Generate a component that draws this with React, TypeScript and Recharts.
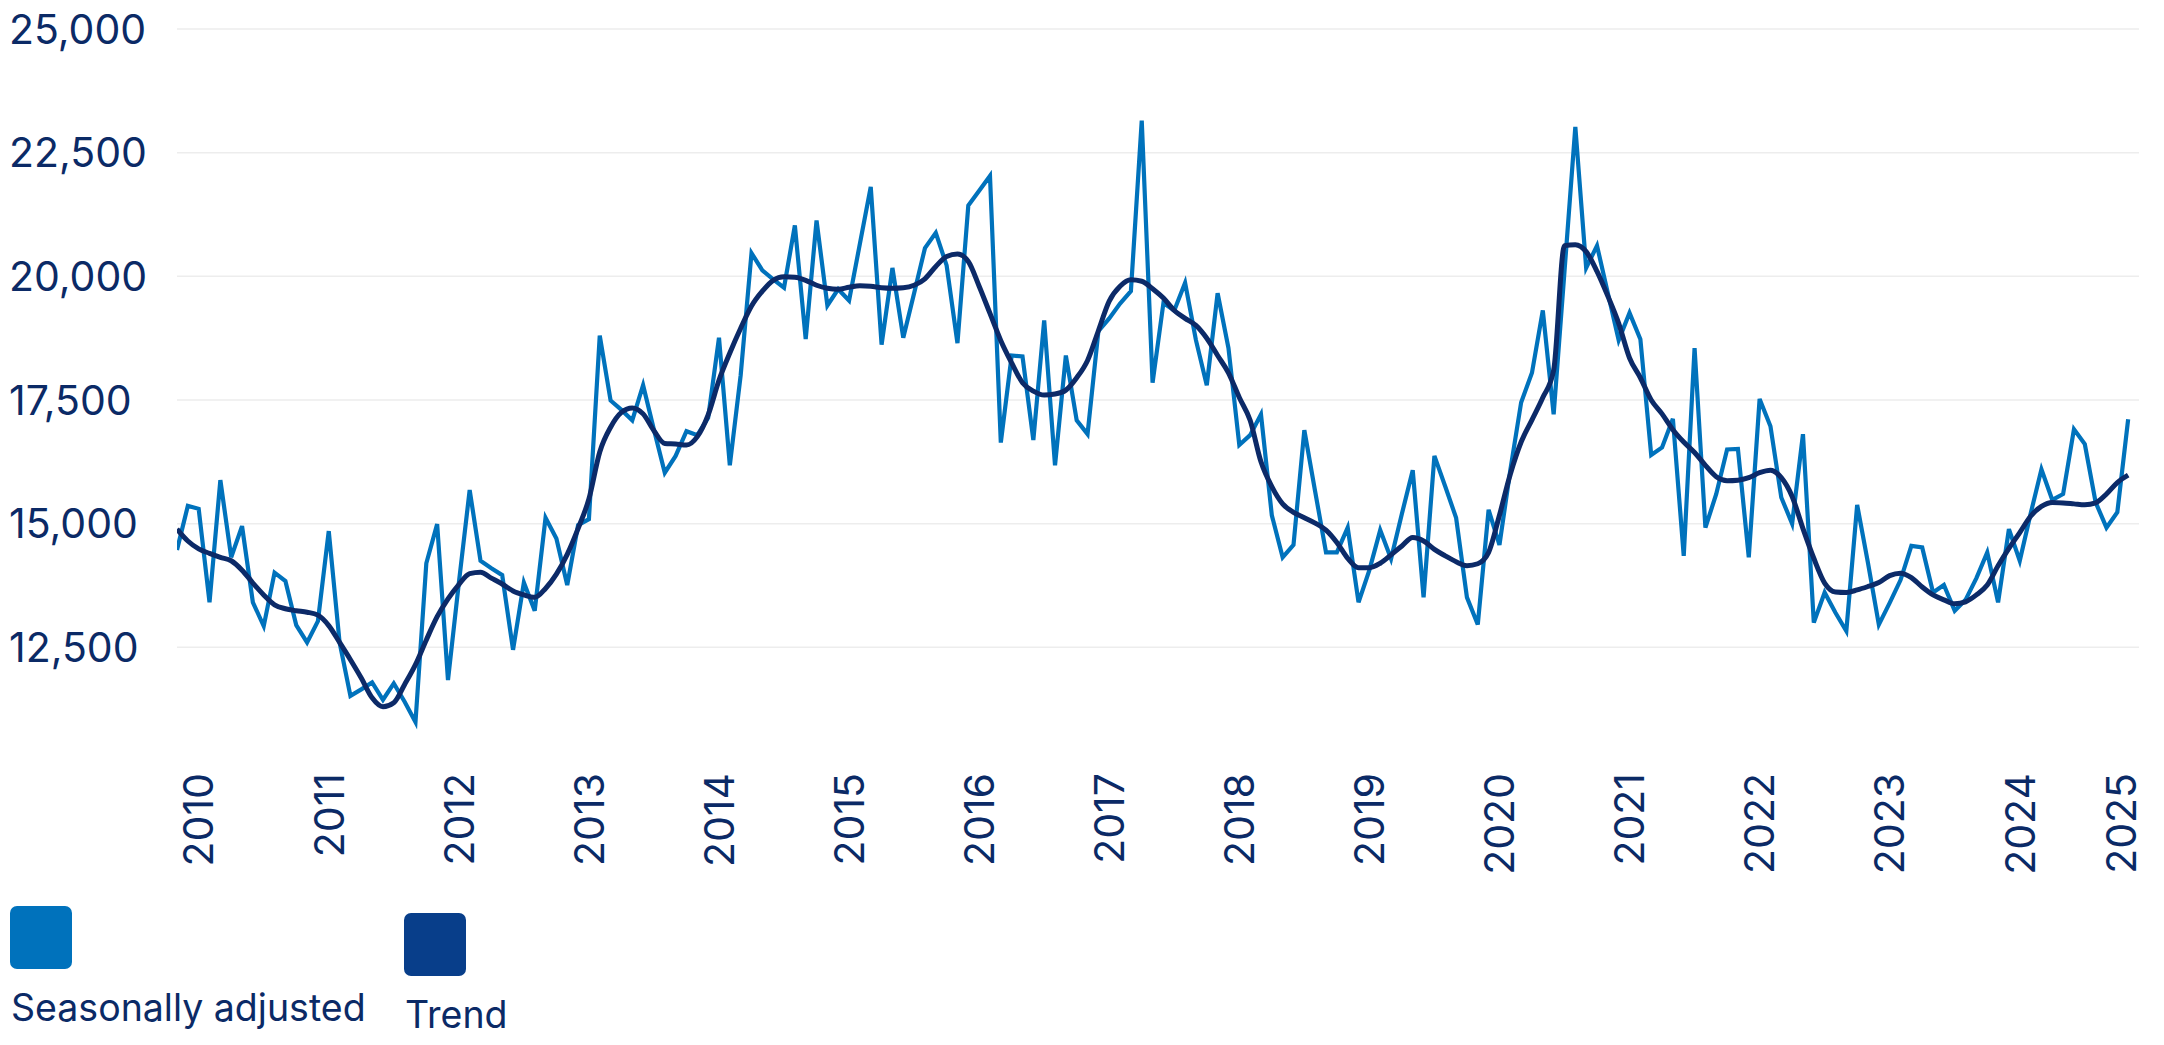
import React from 'react';
import { CartesianGrid, Line, LineChart, XAxis, YAxis } from 'recharts';

// monthly series, first point is Nov 2009
const START_YEAR = 2009;
const START_MONTH = 10; // 0-based, November

const seasonallyAdjusted = [
  14470, 15360,
  15300, 13410, 15880, 14320, 14950, 13410, 12930, 14010, 13840, 12950, 12600, 13030,
  14850, 12600, 11520, 11650, 11790, 11440, 11770, 11400, 10990, 14200, 14990, 11840,
  13800, 15680, 14250, 14100, 13960, 12450, 13810, 13240, 15120, 14700, 13760, 14970,
  15090, 18800, 17490, 17300, 17090, 17800, 16900, 16030, 16370, 16870, 16790, 17140,
  18760, 16180, 18000, 20470, 20120, 19940, 19770, 21030, 18730, 21130, 19410, 19740,
  19510, 20660, 21810, 18620, 20170, 18760, 19660, 20570, 20880, 20220, 18650, 21430,
  21730, 22030, 16640, 18400, 18380, 16690, 19110, 16180, 18400, 17090, 16810, 18890,
  19150, 19450, 19700, 23150, 17850, 19460, 19310, 19870, 18710, 17800, 19660, 18550,
  16590, 16790, 17210, 15170, 14320, 14570, 16890, 15650, 14420, 14420, 14920, 13410,
  14060, 14870, 14290, 15200, 16080, 13510, 16370, 15750, 15120, 13510, 12960, 15280,
  14570, 16080, 17450, 18050, 19310, 17210, 20100, 23020, 20170, 20620, 19660, 18710,
  19260, 18730, 16390, 16540, 17120, 14350, 18550, 14920, 15600, 16500, 16510, 14320,
  17520, 16970, 15530, 15000, 16810, 13000, 13610, 13200, 12830, 15380, 14200, 12960,
  13400, 13860, 14550, 14520, 13610, 13760, 13240, 13460, 13900, 14420, 13410, 14890,
  14250, 15200, 16100, 15480, 15600, 16910, 16610, 15430, 14920, 15230, 17110,
];

const trend = [
  14890, 14650,
  14490, 14400, 14320, 14250, 14060, 13800, 13560, 13360, 13280, 13240, 13210, 13150,
  12940, 12600, 12250, 11880, 11480, 11300, 11380, 11750, 12150, 12650, 13120, 13480,
  13770, 13990, 14020, 13900, 13780, 13640, 13560, 13510, 13690, 13980, 14380, 14900,
  15500, 16450, 16950, 17250, 17340, 17220, 16880, 16620, 16610, 16590, 16760, 17200,
  17900, 18450, 18950, 19400, 19700, 19920, 19990, 19980, 19920, 19820, 19760, 19740,
  19780, 19810, 19800, 19770, 19760, 19770, 19820, 19950, 20200, 20400, 20450, 20300,
  19800, 19250, 18700, 18250, 17850, 17680, 17600, 17620, 17700, 17950, 18300, 18900,
  19500, 19800, 19930, 19900, 19750, 19560, 19310, 19150, 19010, 18750, 18400, 18050,
  17550, 17090, 16250, 15750, 15400, 15230, 15120, 15010, 14870, 14620, 14300, 14110,
  14110, 14200, 14370, 14550, 14720, 14650, 14480, 14350, 14230, 14150, 14190, 14420,
  15170, 16000, 16650, 17100, 17550, 18100, 20620, 20640, 20500, 20100, 19600, 19050,
  18350, 17950, 17500, 17220, 16900, 16650, 16440, 16180, 15950, 15870, 15880, 15930,
  16030, 16080, 15930, 15550, 14900, 14300, 13800, 13620, 13610, 13660, 13730, 13810,
  13950, 14000, 13910, 13720, 13560, 13460, 13380, 13420, 13560, 13760, 14150, 14500,
  14820, 15150, 15350, 15430, 15420, 15400, 15380, 15420, 15600, 15830, 15980,
];

const yTicks = [12500, 15000, 17500, 20000, 22500, 25000];
const yearLabels = ['2010', '2011', '2012', '2013', '2014', '2015', '2016', '2017',
  '2018', '2019', '2020', '2021', '2022', '2023', '2024', '2025'];
const legendLabels = ['Seasonally adjusted', 'Trend'];

const months = seasonallyAdjusted.map((_, i) => {
  const t = START_MONTH + i;
  return `${START_YEAR + Math.floor(t / 12)}-${String((t % 12) + 1).padStart(2, '0')}`;
});

// index of January of each labelled year
const yearTicks = yearLabels.map((y) => (Number(y) - START_YEAR) * 12 - START_MONTH);

const rows = months.map((month, i) => ({
  idx: i,
  month,
  sa: seasonallyAdjusted[i],
  trend: trend[i],
}));

const W = 2164;
const H = 890;
const FONT = 'Inter, sans-serif';
const INK = '#0b2a66';
const SA_COLOR = '#0072bc';
const TREND_COLOR = '#0c2a68';
const TREND_KEY = '#083e8a';
const GRID = '#ededed';
const MARGIN = { top: 29, right: 25, bottom: 0, left: 0 };

const YTick = (props: any) => {
  const { y, payload } = props;
  return (
    <text x={9} y={y} dy="0.36em" textAnchor="start" fill={INK} fontSize={41} fontFamily={FONT}>
      {Number(payload.value).toLocaleString('en-US')}
    </text>
  );
};

const XTick = (props: any) => {
  const { x, y, payload } = props;
  // last label sits past the data, keep it inside the plot
  const cx = Math.min(x, W - MARGIN.right - 18);
  const ty = y - 7;
  const label = yearLabels[yearTicks.indexOf(payload.value)];
  return (
    <text
      x={cx}
      y={ty}
      dy="0.36em"
      transform={`rotate(-90, ${cx}, ${ty})`}
      textAnchor="end"
      fill={INK}
      fontSize={41}
      fontFamily={FONT}
    >
      {label}
    </text>
  );
};

const legendColors = [SA_COLOR, TREND_KEY];

export default function App() {
  return (
    <div
      style={{
        position: 'absolute',
        left: 0,
        top: 0,
        width: W,
        height: 1045,
        background: '#fff',
        fontFamily: FONT,
        color: INK,
      }}
    >
      <LineChart width={W} height={H} data={rows} margin={MARGIN}>
        <CartesianGrid vertical={false} horizontalValues={yTicks} stroke={GRID} strokeWidth={1.5} />
        <XAxis
          type="number"
          dataKey="idx"
          domain={[0, months.length]}
          allowDataOverflow
          ticks={yearTicks}
          interval={0}
          tick={XTick}
          axisLine={false}
          tickLine={false}
          tickMargin={3}
          height={119}
        />
        <YAxis
          domain={[10000, 25000]}
          ticks={yTicks}
          interval={0}
          tick={YTick}
          axisLine={false}
          tickLine={false}
          width={177}
        />
        <Line
          type="linear"
          dataKey="sa"
          stroke={SA_COLOR}
          strokeWidth={4.2}
          dot={false}
          isAnimationActive={false}
        />
        <Line
          type="monotone"
          dataKey="trend"
          stroke={TREND_COLOR}
          strokeWidth={5}
          dot={false}
          isAnimationActive={false}
        />
      </LineChart>
      <div style={{ position: 'absolute', left: 10, top: 906, display: 'flex' }}>
        {legendLabels.map((label, i) => (
          <div key={label} style={{ width: i === 0 ? 394 : 'auto', marginTop: i === 0 ? 0 : 7 }}>
            <div
              style={{
                width: 62,
                height: 63,
                borderRadius: 7,
                background: legendColors[i],
              }}
            />
            <div style={{ marginTop: 20, marginLeft: 1, fontSize: 37.5, lineHeight: 1, whiteSpace: 'nowrap' }}>
              {label}
            </div>
          </div>
        ))}
      </div>
    </div>
  );
}
